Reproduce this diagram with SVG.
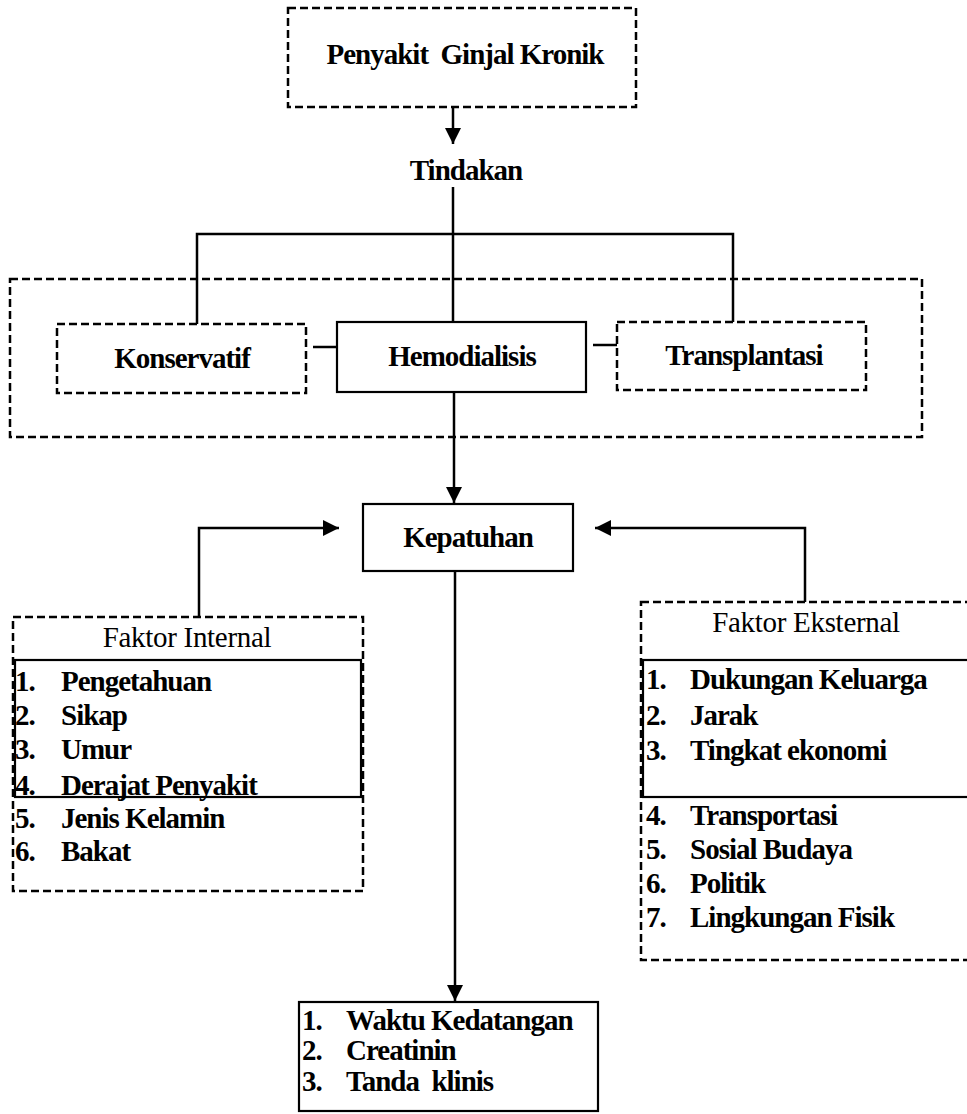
<svg xmlns="http://www.w3.org/2000/svg" width="967" height="1114" viewBox="0 0 967 1114">
<style>
.dash{fill:none;stroke:#000;stroke-width:2.5;stroke-dasharray:8 4}
.solid{fill:none;stroke:#000;stroke-width:2.2}
.ln{fill:none;stroke:#000;stroke-width:2.5}
.t{font-family:"Liberation Serif","Times New Roman",serif;font-weight:bold;font-size:29px;letter-spacing:-1px;fill:#000}
.c{text-anchor:middle}
.h{font-family:"Liberation Serif","Times New Roman",serif;font-weight:normal;font-size:29px;letter-spacing:-0.3px;fill:#000;text-anchor:middle}
</style>
<defs>
<marker id="ah" viewBox="0 0 10 10" refX="10" refY="5" markerWidth="6.5" markerHeight="6.5" markerUnits="strokeWidth" orient="auto">
<path d="M0,0 L10,5 L0,10 Z" fill="#000"/>
</marker>
</defs>
<rect width="967" height="1114" fill="#fff"/>
<g id="connectors">
<line class="ln" x1="453" y1="107" x2="453" y2="144" marker-end="url(#ah)"/>
<line class="ln" x1="453" y1="187" x2="453" y2="322"/>
<polyline class="ln" points="197,324 197,234 733,234 733,322"/>
<line class="ln" x1="313" y1="347" x2="337" y2="347"/>
<line class="ln" x1="593" y1="345" x2="617" y2="345"/>
<line class="ln" x1="454" y1="392" x2="454" y2="503" marker-end="url(#ah)"/>
<polyline class="ln" points="199,617 199,528 339,528" marker-end="url(#ah)"/>
<polyline class="ln" points="805,602 805,528 595,528" marker-end="url(#ah)"/>
<line class="ln" x1="455" y1="571" x2="455" y2="1001" marker-end="url(#ah)"/>
</g>
<g id="penyakit">
<rect class="dash" x="288" y="8" width="348" height="99"/>
<text class="t c" x="465" y="64" xml:space="preserve">Penyakit  Ginjal Kronik</text>
</g>
<g id="tindakan">
<text class="t c" x="466" y="180">Tindakan</text>
</g>
<g id="tindakan-group">
<rect class="dash" x="10" y="279" width="912" height="158"/>
</g>
<g id="konservatif">
<rect class="dash" x="57" y="324" width="249" height="69"/>
<text class="t c" x="182" y="368">Konservatif</text>
</g>
<g id="hemodialisis">
<rect class="solid" x="337" y="322" width="249" height="70"/>
<text class="t c" x="462" y="366">Hemodialisis</text>
</g>
<g id="transplantasi">
<rect class="dash" x="617" y="322" width="249" height="68"/>
<text class="t c" x="744" y="365">Transplantasi</text>
</g>
<g id="kepatuhan">
<rect class="solid" x="363" y="504" width="210" height="67"/>
<text class="t c" x="468" y="547">Kepatuhan</text>
</g>
<g id="faktor-internal">
<rect class="dash" x="13" y="617" width="350" height="274"/>
<rect class="solid" x="15" y="660" width="346" height="137"/>
<text class="h" x="187" y="647">Faktor Internal</text>
<text class="t" x="15" y="691">1.</text><text class="t" x="61" y="691">Pengetahuan</text>
<text class="t" x="15" y="725">2.</text><text class="t" x="61" y="725">Sikap</text>
<text class="t" x="15" y="759">3.</text><text class="t" x="61" y="759">Umur</text>
<text class="t" x="15" y="795">4.</text><text class="t" x="61" y="795">Derajat Penyakit</text>
<text class="t" x="15" y="828">5.</text><text class="t" x="61" y="828">Jenis Kelamin</text>
<text class="t" x="15" y="861">6.</text><text class="t" x="61" y="861">Bakat</text>
</g>
<g id="faktor-eksternal">
<rect class="dash" x="641" y="602" width="340" height="358"/>
<rect class="solid" x="643" y="660" width="340" height="137"/>
<text class="h" x="806" y="632">Faktor Eksternal</text>
<text class="t" x="646" y="689">1.</text><text class="t" x="690" y="689">Dukungan Keluarga</text>
<text class="t" x="646" y="725">2.</text><text class="t" x="690" y="725">Jarak</text>
<text class="t" x="646" y="760">3.</text><text class="t" x="690" y="760">Tingkat ekonomi</text>
<text class="t" x="646" y="825">4.</text><text class="t" x="690" y="825">Transportasi</text>
<text class="t" x="646" y="859">5.</text><text class="t" x="690" y="859">Sosial Budaya</text>
<text class="t" x="646" y="893">6.</text><text class="t" x="690" y="893">Politik</text>
<text class="t" x="646" y="927">7.</text><text class="t" x="690" y="927">Lingkungan Fisik</text>
</g>
<g id="hasil">
<rect class="solid" x="299" y="1002" width="299" height="109"/>
<text class="t" x="302" y="1030">1.</text><text class="t" x="346" y="1030">Waktu Kedatangan</text>
<text class="t" x="302" y="1060">2.</text><text class="t" x="346" y="1060">Creatinin</text>
<text class="t" x="302" y="1091">3.</text><text class="t" x="346" y="1091" xml:space="preserve">Tanda  klinis</text>
</g>
</svg>
